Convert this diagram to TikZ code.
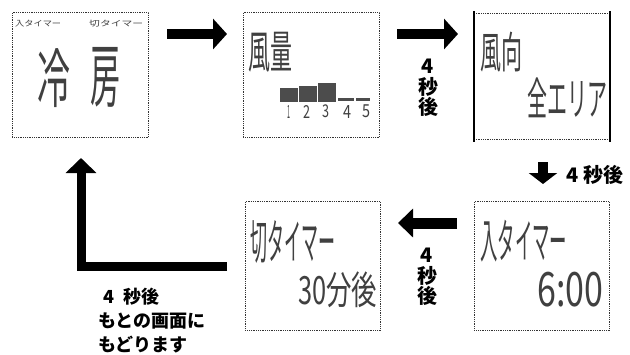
\documentclass[tikz,border=0pt]{standalone}
\usepackage{fontspec}
\usepackage{graphicx}
\usetikzlibrary{arrows.meta}
\newfontfamily\jp{Noto Sans CJK JP}
\begin{document}
\begin{tikzpicture}[x=1pt,y=-1pt,
  screen/.style={draw=black!80, line width=0.9pt, dash pattern=on 0.9pt off 0.9pt, minimum width=136pt, minimum height=125pt, anchor=north west, inner sep=0pt},
  lcd/.style={inner sep=0pt, anchor=north west, text=black!75},
  seg/.style={fill=black!70},
  dotline/.style={draw=black!80, line width=0.9pt, dash pattern=on 0.9pt off 0.9pt},
  sideline/.style={draw=black, line width=2pt},
  bigarrow/.style={line width=10pt, -{Triangle[length=14pt,width=30pt]}},
  lbl/.style={font=\jp\bfseries\fontsize{20}{20.5}\selectfont, align=center, inner sep=0pt},
]
\useasboundingbox (0,0) rectangle (630,354);
\fill[white] (0,0) rectangle (630,354);

% screens
\node[screen] (b1) at (12,12) {};
\node[screen] (b2) at (243,12) {};
\node[inner sep=0pt, minimum width=136pt, minimum height=126pt, anchor=north west] (b3) at (474,13) {};
\draw[dotline] (b3.north west) -- (b3.north east);
\draw[dotline] (b3.south west) -- (b3.south east);
\draw[sideline] (b3.north west) ++(0,-2) -- ([yshift=-3pt]b3.south west);
\draw[sideline] (b3.north east) ++(0,-2) -- ([yshift=-3pt]b3.south east);
\node[screen, minimum width=135pt, minimum height=129pt] (b4) at (245,201) {};
\node[screen, minimum width=135pt, minimum height=129pt] (b5) at (474,201) {};

% screen 1
\node[lcd] (t1a) at (15,20) {\resizebox*{46pt}{7pt}{\jp 入タイマー}};
\node[lcd] (t1b) at (89,20) {\resizebox*{54pt}{7pt}{\jp 切タイマー}};
\node[lcd] (t1c) at (37,48) {\resizebox*{33pt}{59pt}{\jp 冷}};
\node[lcd] (t1d) at (90,47) {\resizebox*{30pt}{60pt}{\jp 房}};

% screen 2
\node[lcd] (t2a) at (248,32) {\resizebox*{44pt}{40pt}{\jp 風量}};
\fill[seg] (280,88) rectangle (298,102);
\fill[seg] (299,86) rectangle (317,102);
\fill[seg] (318,83) rectangle (336,102);
\fill[seg] (338,98) rectangle (354,101);
\fill[seg] (356,98) rectangle (370,101);
\node[lcd] (d1) at (287,105) {\resizebox*{3pt}{13pt}{\jp 1}};
\node[lcd] (d2) at (303,105) {\resizebox*{7pt}{13pt}{\jp 2}};
\node[lcd] (d3) at (322,105) {\resizebox*{7pt}{13pt}{\jp 3}};
\node[lcd] (d4) at (343,105) {\resizebox*{8pt}{13pt}{\jp 4}};
\node[lcd] (d5) at (362,105) {\resizebox*{8pt}{13pt}{\jp 5}};

% screen 3
\node[lcd] (t3a) at (480,32) {\resizebox*{42pt}{40pt}{\jp 風向}};
\node[lcd] (t3b) at (527,78) {\resizebox*{80pt}{40pt}{\jp 全エリア}};

% screen 4
\node[lcd] (t4a) at (250,220) {\resizebox*{85pt}{43pt}{\jp 切タイマー}};
\node[lcd] (t4b) at (298,272) {\resizebox*{79pt}{36pt}{\jp 30分後}};

% screen 5
\node[lcd] (t5a) at (480,220) {\resizebox*{87pt}{42pt}{\jp 入タイマー}};
\node[lcd] (t5b) at (537,272) {\resizebox*{66pt}{35pt}{\jp 6:00}};

% arrows
\coordinate (a1s) at (167,34); \coordinate (a1e) at (227,34);
\draw[bigarrow] (a1s) -- (a1e);
\coordinate (a2s) at (397,34); \coordinate (a2e) at (458,34);
\draw[bigarrow] (a2s) -- (a2e);
\node[lbl] (l2) at (428,88) {4\\秒\\後};

\coordinate (a3s) at (543,162); \coordinate (a3e) at (543,184);
\draw[line width=10pt, -{Triangle[length=11pt,width=28pt]}] (a3s) -- (a3e);
\node[lbl, anchor=west] (l3) at (566,175) {4\hspace{5pt}秒後};

\coordinate (a4s) at (457,223); \coordinate (a4e) at (398,223);
\draw[line width=11pt, -{Triangle[length=15pt,width=28pt]}] (a4s) -- (a4e);
\node[lbl] (l4) at (427,277) {4\\秒\\後};

\coordinate (a5s) at (227,266); \coordinate (a5c) at (81,266); \coordinate (a5e) at (81,158);
\draw[line width=9pt, line join=miter, -{Triangle[length=15pt,width=30pt]}] (a5s) -- (a5c) -- (a5e);

\node[anchor=north west, font=\jp\bfseries\fontsize{18}{24}\selectfont, align=left, inner sep=0pt] (l5) at (98,288) {\hspace*{5pt}4\hspace{9pt}秒後\\もとの画面に\\もどります};
\end{tikzpicture}
\end{document}
